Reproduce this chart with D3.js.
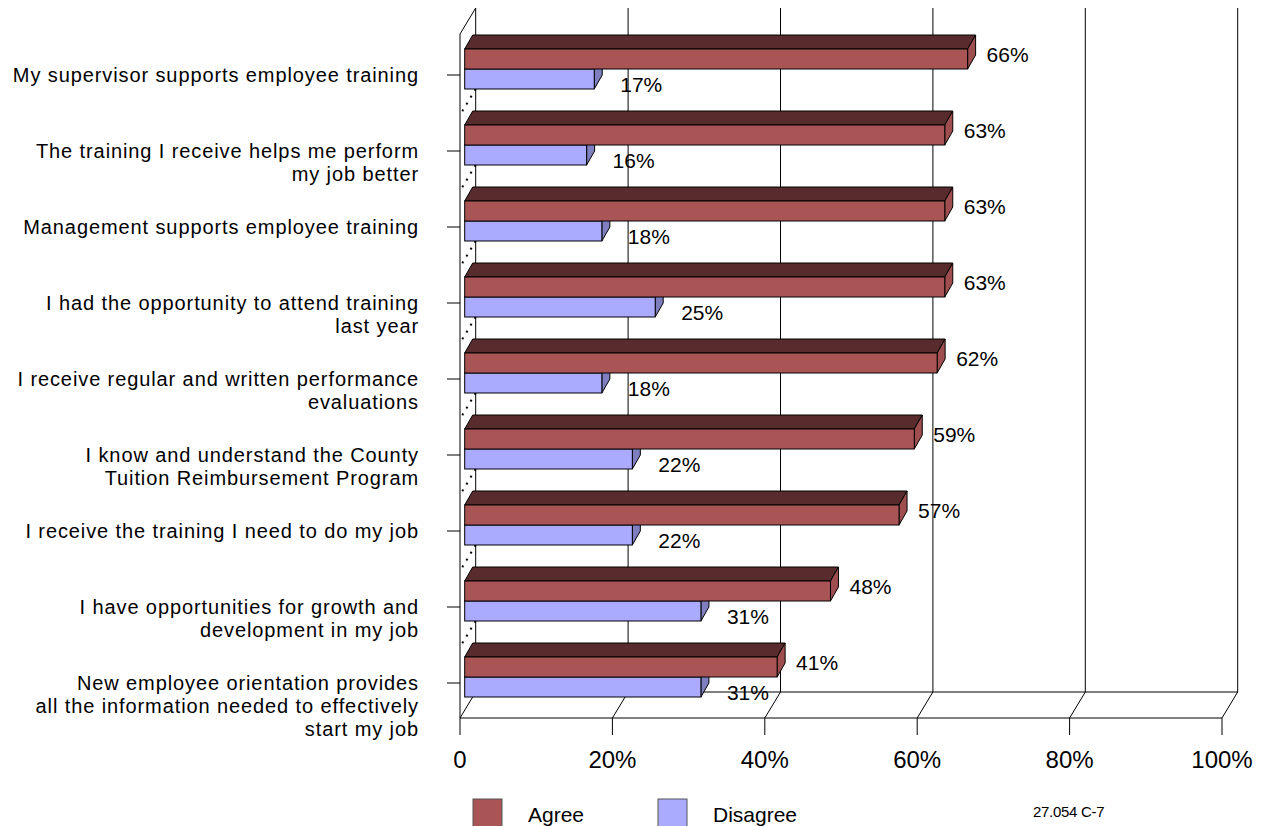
<!DOCTYPE html>
<html><head><meta charset="utf-8">
<script src="https://cdn.jsdelivr.net/npm/d3@7"></script>
<style>
body{margin:0;background:#fff}
svg{display:block}
text{font-family:"Liberation Sans",Arial,Helvetica,sans-serif;fill:#000}
</style>
</head><body>
<svg id="chart" width="1264" height="826"></svg>
<script>
// ---------- data ----------
const categories = [
  "My supervisor supports employee training",
  "The training I receive helps me perform\nmy job better",
  "Management supports employee training",
  "I had the opportunity to attend training\nlast year",
  "I receive regular and written performance\nevaluations",
  "I know and understand the County\nTuition Reimbursement Program",
  "I receive the training I need to do my job",
  "I have opportunities for growth and\ndevelopment in my job",
  "New employee orientation provides\nall the information needed to effectively\nstart my job"
];
const agree    = [66, 63, 63, 63, 62, 59, 57, 48, 41];
const disagree = [17, 16, 18, 25, 18, 22, 22, 31, 31];
const xTicks = [0, 20, 40, 60, 80, 100];
const xTickLabels = ["0", "20%", "40%", "60%", "80%", "100%"];
const seriesNames = ["Agree", "Disagree"];
const footnote = "27.054 C-7";

// ---------- layout ----------
const svg = d3.select("#chart");
const front = {x0: 460, x1: 1222, yTop: 34, yBottom: 718};
const DX = 15.7, DY = -26;            // wall depth
const BX = 8, BY = -14;               // bar depth
const barOffset = 4.7;                // bars sit slightly behind the front plane

const x = d3.scaleLinear().domain([0, 100]).range([front.x0, front.x1]);
const xBar = d3.scaleLinear().domain([0, 100]).range([front.x0 + barOffset, front.x1 + barOffset]);
const y = d3.scaleBand().domain(categories).range([front.yTop, front.yBottom]);
const barH = 20;

const colors = {
  agree: {front: "#AA5555", top: "#582C2C", side: "#9E4E4E"},
  disagree: {front: "#AAAAFF", top: "#8F8FD9", side: "#7F7FC0"}
};

const g = svg.append("g");

// back wall gridlines
g.selectAll(".grid").data(xTicks).join("line")
  .attr("x1", d => x(d) + DX).attr("x2", d => x(d) + DX)
  .attr("y1", front.yTop + DY).attr("y2", front.yBottom + DY)
  .attr("stroke", "#000").attr("stroke-width", 1);

// floor
g.append("line").attr("x1", x(0)).attr("x2", x(100)).attr("y1", front.yBottom).attr("y2", front.yBottom)
  .attr("stroke", "#000");
g.append("line").attr("x1", x(0) + DX).attr("x2", x(100) + DX).attr("y1", front.yBottom + DY).attr("y2", front.yBottom + DY)
  .attr("stroke", "#000");
g.selectAll(".floordiag").data(xTicks).join("line")
  .attr("x1", d => x(d)).attr("y1", front.yBottom)
  .attr("x2", d => x(d) + DX).attr("y2", front.yBottom + DY)
  .attr("stroke", "#000");
// tick marks below floor
g.selectAll(".xtick").data(xTicks).join("line")
  .attr("x1", d => x(d)).attr("x2", d => x(d))
  .attr("y1", front.yBottom).attr("y2", front.yBottom + 17)
  .attr("stroke", "#000");
// tick labels
g.selectAll(".xlabel").data(xTicks).join("text")
  .attr("x", d => x(d)).attr("y", front.yBottom + 50)
  .attr("text-anchor", "middle").attr("font-size", 24)
  .text((d, i) => xTickLabels[i]);

// left wall
g.append("line").attr("x1", x(0)).attr("y1", front.yTop).attr("x2", x(0) + DX).attr("y2", front.yTop + DY)
  .attr("stroke", "#000");
g.append("line").attr("x1", x(0)).attr("y1", front.yTop).attr("x2", x(0)).attr("y2", front.yBottom)
  .attr("stroke", "#000");

// dotted depth lines between categories
categories.slice(0, -1).forEach(c => {
  const yb = y(c) + 15 + 2 * barH;
  g.append("line").attr("x1", x(0) + DX).attr("y1", yb).attr("x2", x(0)).attr("y2", yb - DY)
    .attr("stroke", "#000").attr("stroke-width", 2).attr("stroke-dasharray", "2,6");
});

// category axis ticks
g.selectAll(".ytick").data(categories).join("line")
  .attr("x1", x(0) - 13).attr("x2", x(0))
  .attr("y1", d => y(d) + 41).attr("y2", d => y(d) + 41)
  .attr("stroke", "#000");

// category labels
categories.forEach(c => {
  const lines = c.split("\n");
  const t = g.append("text").attr("text-anchor", "end").attr("font-size", 20).attr("letter-spacing", 0.9);
  lines.forEach((ln, i) => {
    t.append("tspan").attr("x", 419).attr("y", y(c) + 41 + 7 + i * 23).text(ln);
  });
});

// 3D bar
function bar3d(x0, x1, yTop, col) {
  const b = g.append("g");
  b.append("polygon")
    .attr("points", [[x0, yTop], [x1, yTop], [x1 + BX, yTop + BY], [x0 + BX, yTop + BY]].map(p => p.join(",")).join(" "))
    .attr("fill", col.top).attr("stroke", "#000").attr("stroke-width", 1);
  b.append("polygon")
    .attr("points", [[x1, yTop], [x1 + BX, yTop + BY], [x1 + BX, yTop + barH + BY], [x1, yTop + barH]].map(p => p.join(",")).join(" "))
    .attr("fill", col.side).attr("stroke", "#000").attr("stroke-width", 1);
  b.append("rect").attr("x", x0).attr("y", yTop).attr("width", x1 - x0).attr("height", barH)
    .attr("fill", col.front).attr("stroke", "#000").attr("stroke-width", 1);
}

categories.forEach((c, i) => {
  const yr = y(c) + 15;
  bar3d(xBar(0), xBar(disagree[i]), yr + barH, colors.disagree);
  bar3d(xBar(0), xBar(agree[i]), yr, colors.agree);
});

// value labels
categories.forEach((c, i) => {
  const yr = y(c) + 15;
  g.append("text").attr("x", xBar(agree[i]) + 19).attr("y", yr + 7)
    .attr("font-size", 21).attr("dominant-baseline", "middle").text(agree[i] + "%");
  g.append("text").attr("x", xBar(disagree[i]) + 26).attr("y", yr + barH + 17)
    .attr("font-size", 21).attr("dominant-baseline", "middle").text(disagree[i] + "%");
});

// legend
const legend = g.append("g");
const legendItems = [
  {name: seriesNames[0], fill: colors.agree.front, x: 473},
  {name: seriesNames[1], fill: colors.disagree.front, x: 658}
];
legendItems.forEach(d => {
  legend.append("rect").attr("x", d.x).attr("y", 799).attr("width", 29).attr("height", 30)
    .attr("fill", d.fill).attr("stroke", "#555").attr("stroke-width", 1);
  legend.append("text").attr("x", d.x + 55).attr("y", 822).attr("font-size", 21).text(d.name);
});

g.append("text").attr("x", 1033).attr("y", 817).attr("font-size", 15).attr("letter-spacing", -0.3).text(footnote);
</script>
</body></html>
